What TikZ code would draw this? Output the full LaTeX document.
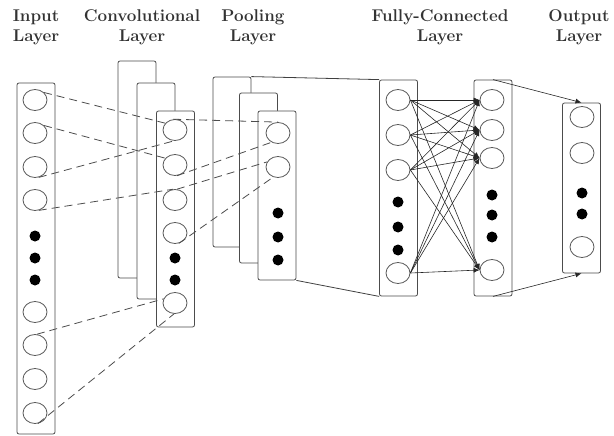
\documentclass[tikz,border=0pt]{standalone}
\usetikzlibrary{shapes.geometric,arrows.meta}
\begin{document}
\begin{tikzpicture}[x=1pt,y=-1pt,
   layer/.style={draw=black!70,line width=0.8pt,fill=white,rounded corners=2pt,minimum width=38pt,inner sep=0pt},
   neuron/.style={draw=black!65,line width=0.8pt,ellipse,minimum width=24pt,minimum height=21pt,inner sep=0pt},
   blob/.style={fill=black,circle,minimum size=11pt,inner sep=0pt},
   conn/.style={draw=black!70,line width=0.8pt,dash pattern=on 8pt off 5pt},
   full/.style={draw=black!85,line width=0.6pt,-{Latex[length=6pt,width=5pt]}},
   title/.style={align=center,font=\fontsize{17}{20}\selectfont\bfseries,text=black!80}]
\useasboundingbox (0,0) rectangle (614,436);

\node[title] (tin) at (36,27) {Input\\Layer};
\node[title] (tconv) at (142,27) {Convolutional\\Layer};
\node[title] (tpool) at (253,27) {Pooling\\Layer};
\node[title] (tfc) at (440,27) {Fully-Connected\\Layer};
\node[title] (tout) at (579,27) {Output\\Layer};

\node[layer,minimum height=351pt] (inbox) at (36,258.5) {};
\node[layer,minimum height=217pt] (convA) at (137,169.5) {};
\node[layer,minimum height=216pt] (convB) at (156,191) {};
\node[layer,minimum height=216pt] (convC) at (175.5,219) {};
\node[layer,minimum height=170pt] (poolA) at (232,162) {};
\node[layer,minimum height=170pt] (poolB) at (258.5,178) {};
\node[layer,minimum height=169pt] (poolC) at (277,195.5) {};
\node[layer,minimum height=216pt] (fcA) at (398.5,188) {};
\node[layer,minimum height=216pt] (fcB) at (493,188) {};
\node[layer,minimum height=170pt] (outbox) at (581.5,188) {};

\foreach \n/\y in {1/100,2/133,3/167,4/200,5/312,6/345,7/379,8/413}
   \node[neuron] (in\n) at (35,\y) {};
\foreach \n/\y in {1/236,2/258,3/280}
   \node[blob] (ind\n) at (35,\y) {};
\foreach \n/\y in {1/130,2/165,3/200,4/233,5/303}
   \node[neuron] (cv\n) at (175,\y) {};
\foreach \n/\y in {1/258,2/280}
   \node[blob] (cvd\n) at (175,\y) {};
\foreach \n/\y in {1/133,2/167}
   \node[neuron] (pl\n) at (278,\y) {};
\foreach \n/\y in {1/213,2/237,3/260}
   \node[blob] (pld\n) at (278,\y) {};
\foreach \n/\y in {1/100,2/135,3/170,4/273}
   \node[neuron] (fa\n) at (398,\y) {};
\foreach \n/\y in {1/202,2/227,3/250}
   \node[blob] (fad\n) at (398,\y) {};
\foreach \n/\y in {1/100,2/130,3/158,4/270}
   \node[neuron] (fb\n) at (492,\y) {};
\foreach \n/\y in {1/195,2/215,3/237}
   \node[blob] (fbd\n) at (492,\y) {};
\foreach \n/\y in {1/117,2/153,3/247}
   \node[neuron] (ot\n) at (582,\y) {};
\foreach \n/\y in {1/193,2/214}
   \node[blob] (otd\n) at (582,\y) {};

\draw[conn] (in1.40) -- (cv1.145);
\draw[conn] (in2.40) -- (cv2.145);
\draw[conn] (in3.-70) -- (cv1.-95);
\draw[conn] (in4.-70) -- (cv3.100);
\draw[conn] (in6.80) -- (cv5.160);
\draw[conn] (in8.-75) -- (cv5.-95);
\draw[conn] (cv1.100) -- (pl1.90);
\draw[conn] (cv2.-80) -- (pl1.-125);
\draw[conn] (cv3.80) -- (pl2.155);
\draw[conn] (cv4.-70) -- (pl2.-115);

\draw[draw=black!75,line width=0.8pt] (poolA.north east) -- (fcA.north west);
\draw[draw=black!75,line width=0.8pt] (poolC.south east) -- (fcA.south west);

\foreach \a in {1,...,4}
   \foreach \b in {1,...,4}
      \draw[full] (fa\a.east) -- (fb\b.west);

\draw[full] (fcB.north) -- (outbox.north);
\draw[full] (fcB.south) -- (outbox.south);
\end{tikzpicture}
\end{document}
